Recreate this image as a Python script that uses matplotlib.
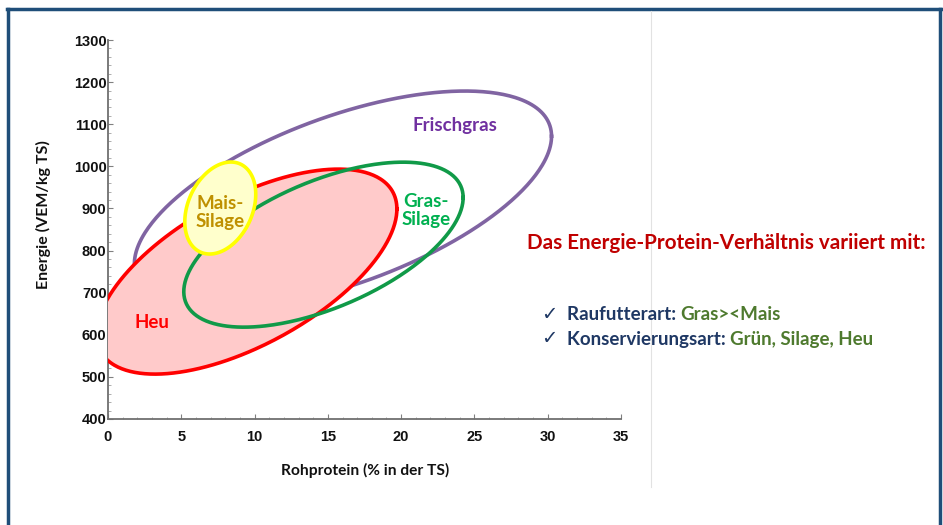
import numpy as np
import matplotlib
matplotlib.use("Agg")
import matplotlib.pyplot as plt
from matplotlib.lines import Line2D

# ---- data: ellipses (center x, center y, half-extent x, half-extent y, correlation)
names = ["Frischgras", "Heu", "Gras-Silage", "Mais-Silage"]
cx = [16.03, 9.46, 14.70, 7.66]
cy = [920, 750, 814, 901]
wx = [14.23, 10.25, 9.53, 2.42]
hy = [258.8, 243.4, 195.9, 109.2]
rho = [0.585, 0.61, 0.57, 0.30]

labels = ["Frischgras", "Heu", "Gras-\nSilage", "Mais-\nSilage"]
label_x = [23.7, 3.0, 21.7, 7.65]
label_y = [1096, 630, 895, 890]

x_ticks = [0, 5, 10, 15, 20, 25, 30, 35]
y_ticks = [400, 500, 600, 700, 800, 900, 1000, 1100, 1200, 1300]

W, H = 943, 525
fig = plt.figure(figsize=(W / 100, H / 100), dpi=100)
fig.patch.set_facecolor("white")

ax = fig.add_axes([108 / W, (H - 419) / H, 513 / W, 379 / H])
ax.set_xlim(0, 35)
ax.set_ylim(400, 1300)

t = np.linspace(0, 2 * np.pi, 400)


def ell(i):
    x = cx[i] + wx[i] * np.cos(t)
    y = cy[i] + hy[i] * (rho[i] * np.cos(t) + np.sqrt(1 - rho[i] ** 2) * np.sin(t))
    return x, y


lw = 2.6
# Frischgras
x, y = ell(0)
ax.plot(x, y, color="#8064A2", lw=lw, zorder=2)
# Heu
x, y = ell(1)
ax.fill(x, y, facecolor="#FFCACA", edgecolor="none", zorder=3)
ax.plot(x, y, color="#FF0000", lw=lw, zorder=3.5)
# Gras-Silage
x, y = ell(2)
ax.plot(x, y, color="#109A48", lw=lw, zorder=4)
# Mais-Silage
x, y = ell(3)
ax.fill(x, y, facecolor="#FFFFCC", edgecolor="#FFFF00", lw=lw, zorder=5)

lab_colors = ["#7030A0", "#FF0000", "#00B050", "#BF9000"]
for i in range(4):
    ax.text(label_x[i], label_y[i], labels[i], color=lab_colors[i], fontsize=13.5,
            fontweight="bold", family=["Lato", "DejaVu Sans"], ha="center",
            va="center", zorder=6, linespacing=1.1)

ax.set_xticks(x_ticks)
ax.set_yticks(y_ticks)
ax.set_xticks(np.arange(0, 36, 1), minor=True)
ax.set_yticks(np.arange(400, 1301, 20), minor=True)
for s in ["top", "right"]:
    ax.spines[s].set_visible(False)
for s in ["left", "bottom"]:
    ax.spines[s].set_color("#707070")
    ax.spines[s].set_linewidth(1.3)
ax.tick_params(axis="both", which="major", direction="in", length=3.5, color="#808080",
               labelsize=10.5, labelcolor="#111111")
ax.tick_params(axis="both", which="minor", direction="in", length=1.8, color="#A0A0A0")
ax.tick_params(axis="x", which="major", pad=8)
ax.tick_params(axis="y", which="major", pad=1)
for lab in ax.get_xticklabels() + ax.get_yticklabels():
    lab.set_family("Liberation Sans")
    lab.set_fontweight("bold")

fig.text(365 / W, 1 - 470 / H, "Rohprotein (% in der TS)", family="Lato",
         fontweight="bold", fontsize=11.2, ha="center", va="center", color="#111111")
fig.text(43 / W, 1 - 215 / H, "Energie (VEM/kg TS)", family="Lato",
         fontweight="bold", fontsize=11.5, ha="center", va="center", rotation=90,
         color="#111111")

# right-hand text
fig.text(527 / W, 1 - 243 / H, "Das Energie-Protein-Verhältnis variiert mit:",
         family="Lato", fontweight="bold", fontsize=14.9, color="#C00000",
         ha="left", va="center")

navy = "#1F3864"
green = "#4E7A2E"
rows = [("Raufutterart: ", "Gras><Mais", 315), ("Konservierungsart: ", "Grün, Silage, Heu", 339)]
for a, b, yy in rows:
    fig.text(541 / W, 1 - yy / H, "✓", family=["DejaVu Sans"], fontsize=14,
             color=navy, ha="left", va="center")
    t1 = fig.text(567 / W, 1 - yy / H, a, family="Lato", fontweight="bold",
                  fontsize=13.5, color=navy, ha="left", va="center")
    ax.annotate(b, xy=(1, 0.5), xycoords=t1, va="center", ha="left",
                family="Lato", fontweight="bold", fontsize=13.5, color=green,
                annotation_clip=False)

# slide frame and image border
fc = "#1F4E79"
fig.add_artist(Line2D([8 / W, 8 / W], [0, 1 - 9 / H], color=fc, lw=2.5))
fig.add_artist(Line2D([940 / W, 940 / W], [0, 1 - 9 / H], color=fc, lw=2.5))
fig.add_artist(Line2D([7 / W, 941 / W], [1 - 9 / H, 1 - 9 / H], color=fc, lw=2.5))
fig.add_artist(Line2D([651 / W, 651 / W], [1 - 487 / H, 1 - 11 / H], color="#E2E2E2", lw=0.8))

fig.savefig("out.png", dpi=100, facecolor="white")
